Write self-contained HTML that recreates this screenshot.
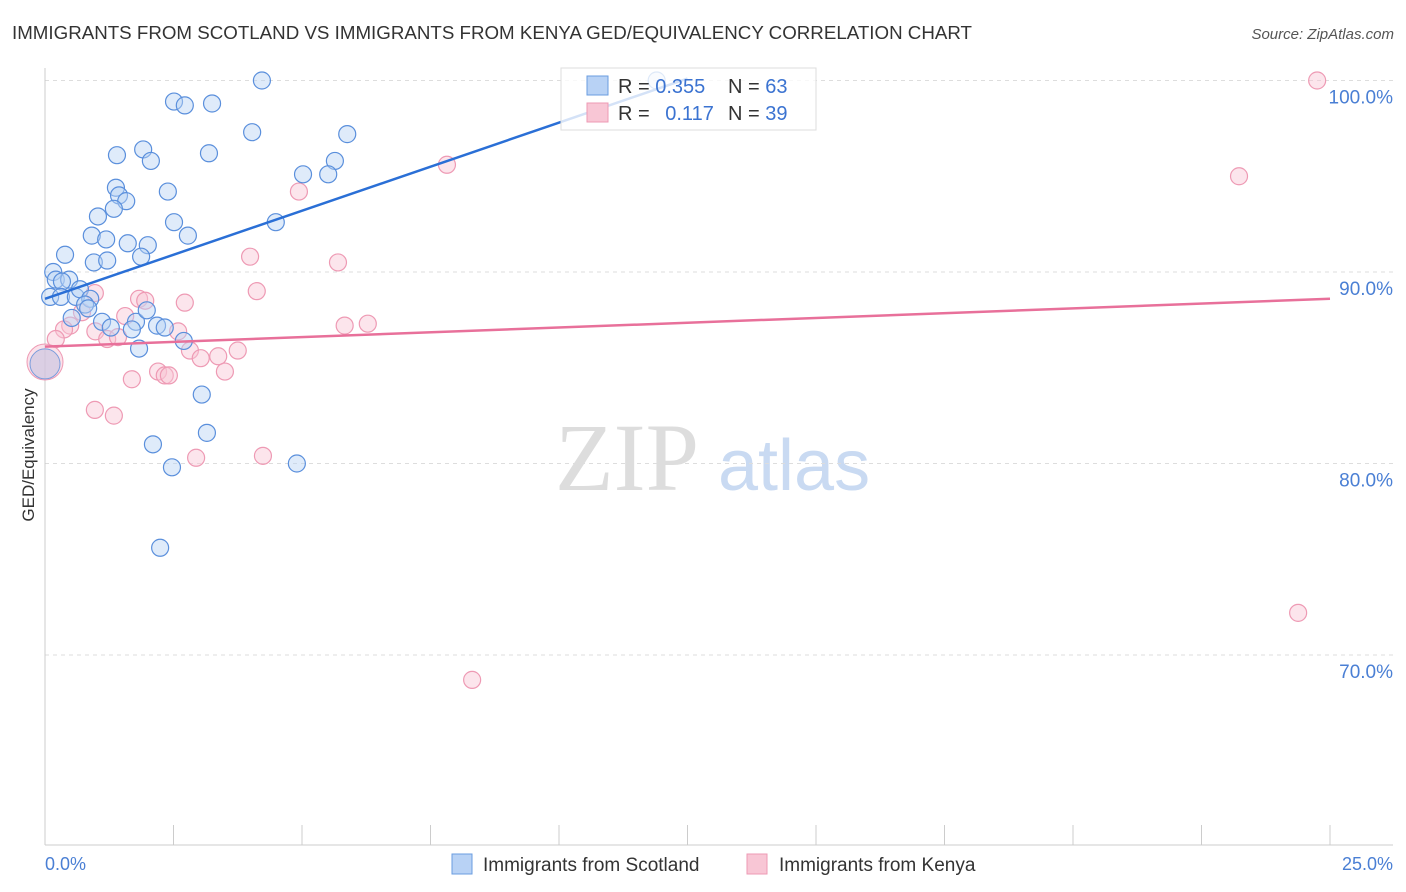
<!DOCTYPE html>
<html><head><meta charset="utf-8"><style>
body{margin:0;background:#fff;font-family:"Liberation Sans",sans-serif;}
svg{display:block}
</style></head><body>
<svg id="chart" width="1406" height="892">
<text x="12" y="39" font-size="18" fill="#333" textLength="960" lengthAdjust="spacingAndGlyphs">IMMIGRANTS FROM SCOTLAND VS IMMIGRANTS FROM KENYA GED/EQUIVALENCY CORRELATION CHART</text>
<text x="1394" y="39" font-size="15" fill="#555" font-style="italic" text-anchor="end">Source: ZipAtlas.com</text>
<g>
<text x="555" y="490" font-size="96" fill="#ddd" font-family="Liberation Serif,serif">ZIP</text>
<text x="718" y="490" font-size="72" fill="#c9daf2">atlas</text>
</g>
<g id="grid"></g>
<line x1="45" y1="68" x2="45" y2="845" stroke="#ccc"/>
<line x1="45" y1="845" x2="1393" y2="845" stroke="#ccc"/>
<text transform="translate(34,455) rotate(-90)" font-size="17" fill="#333" text-anchor="middle">GED/Equivalency</text>
<text x="45" y="870" font-size="18" fill="#4a7fd4">0.0%</text>
<text x="1393" y="870" font-size="18" fill="#4a7fd4" text-anchor="end">25.0%</text>
<g id="pts"></g>
<g id="lines"></g>
<g>
<rect x="561" y="68" width="255" height="62" fill="#fff" fill-opacity="0.8" stroke="#ddd"/>
<rect x="587" y="76" width="21" height="19" fill="#b8d2f5" stroke="#6a9ce0"/>
<rect x="587" y="103" width="21" height="19" fill="#f8c6d5" stroke="#ee9ab4"/>
<text x="618" y="93" font-size="20" fill="#333">R = <tspan fill="#3b73d1">0.355</tspan></text>
<text x="728" y="93" font-size="20" fill="#333">N = <tspan fill="#3b73d1">63</tspan></text>
<text x="618" y="120" font-size="20" fill="#333">R = <tspan fill="#3b73d1" dx="10">0.117</tspan></text>
<text x="728" y="120" font-size="20" fill="#333">N = <tspan fill="#3b73d1">39</tspan></text>
</g>
<g>
<rect x="452" y="854" width="20" height="20" fill="#b8d2f5" stroke="#6a9ce0"/>
<text x="483" y="871" font-size="19" fill="#333">Immigrants from Scotland</text>
<rect x="747" y="854" width="20" height="20" fill="#f8c6d5" stroke="#ee9ab4"/>
<text x="779" y="871" font-size="19" fill="#333">Immigrants from Kenya</text>
</g>
</svg>
<script>
const yTicks=[100,90,80,70];
const yTickLabels=["100.0%","90.0%","80.0%","70.0%"];
const xTicks=[0,2.5,5,7.5,10,12.5,15,17.5,20,22.5,25];
const scotX=[4.22,2.51,2.72,3.25,4.03,5.88,1.91,1.40,2.06,3.19,5.64,5.02,5.51,1.38,2.39,1.44,1.58,1.34,1.03,2.51,4.49,0.91,1.19,2.78,1.61,2.00,0.39,1.87,0.95,1.21,0.16,0.21,0.47,0.33,0.10,0.31,0.60,0.68,0.88,0.78,0.84,0.52,1.11,1.28,1.77,1.98,1.69,2.18,2.33,2.70,1.83,3.05,2.10,3.15,2.47,4.90,2.24,11.9];
const scotY=[100.0,98.9,98.7,98.8,97.3,97.2,96.4,96.1,95.8,96.2,95.8,95.1,95.1,94.4,94.2,94.0,93.7,93.3,92.9,92.6,92.6,91.9,91.7,91.9,91.5,91.4,90.9,90.8,90.5,90.6,90.0,89.6,89.6,89.5,88.7,88.7,88.7,89.1,88.6,88.3,88.1,87.6,87.4,87.1,87.4,88.0,87.0,87.2,87.1,86.4,86.0,83.6,81.0,81.6,79.8,80.0,75.6,100.0];
const kenX=[24.75,23.23,7.82,4.94,3.99,5.70,4.12,0.97,1.83,1.95,2.72,0.72,1.56,6.28,5.83,0.49,0.37,0.98,2.59,0.21,1.21,1.42,2.82,3.75,3.03,3.37,3.50,2.20,2.33,2.41,1.69,0.97,1.34,2.94,4.24,8.31,24.38];
const kenY=[100.0,95.0,95.6,94.2,90.8,90.5,89.0,88.9,88.6,88.5,88.4,87.9,87.7,87.3,87.2,87.2,87.0,86.9,86.9,86.5,86.5,86.6,85.9,85.9,85.5,85.6,84.8,84.8,84.6,84.6,84.4,82.8,82.5,80.3,80.4,68.7,72.2];
const bigX=[0,0];const bigY=[85.3,85.2];
const scotTrend=[[0,88.6],[12.5,100.1]];
const kenTrend=[[0,86.1],[25,88.6]];
const NS="http://www.w3.org/2000/svg";
const X=v=>45+v/25*1285;
const Y=v=>80.5+(100-v)*19.15;
function mk(t,a,p){const e=document.createElementNS(NS,t);for(const k in a)e.setAttribute(k,a[k]);document.getElementById(p).appendChild(e);return e;}
yTicks.forEach((t,i)=>{
 const l=mk('line',{x1:45,x2:1393,y1:Y(t),y2:Y(t),stroke:'#ddd','stroke-dasharray':'4 4'},'grid');
 
 
 const tx=mk('text',{x:1393,y:Y(t)+23,'font-size':19,fill:'#4a7fd4','text-anchor':'end'},'grid');
 tx.textContent=yTickLabels[i];
 
 
});
xTicks.forEach(t=>{
 const l=mk('line',{x1:X(t),x2:X(t),y1:825,y2:845,stroke:'#ccc'},'grid');
 
 
});
function dots(xs,ys,fill,stroke,r,name){xs.forEach((x,i)=>{
 const c=mk('circle',{cx:X(x),cy:Y(ys[i]),r:r,fill:fill,'fill-opacity':0.45,stroke:stroke,'stroke-width':1.2},'pts');
 
 
});}
dots(kenX,kenY,'#f8c6d5','#ee9ab4',8.5,'kenya-point');
dots(scotX,scotY,'#b8d2f5','#5a8fdc',8.5,'scotland-point');
const b1=mk('circle',{cx:X(bigX[0]),cy:Y(bigY[0]),r:18,fill:'#f8c6d5','fill-opacity':0.5,stroke:'#ee9ab4'},'pts');


const b2=mk('circle',{cx:X(bigX[1]),cy:Y(bigY[1]),r:15,fill:'#c7c3e0','fill-opacity':0.6,stroke:'#7a9cdc'},'pts');


const t1=mk('line',{x1:X(scotTrend[0][0]),y1:Y(scotTrend[0][1]),x2:X(scotTrend[1][0]),y2:Y(scotTrend[1][1]),stroke:'#2a6fd6','stroke-width':2.5},'lines');


const t2=mk('line',{x1:X(kenTrend[0][0]),y1:Y(kenTrend[0][1]),x2:X(kenTrend[1][0]),y2:Y(kenTrend[1][1]),stroke:'#e8709a','stroke-width':2.5},'lines');


</script>
</body></html>
